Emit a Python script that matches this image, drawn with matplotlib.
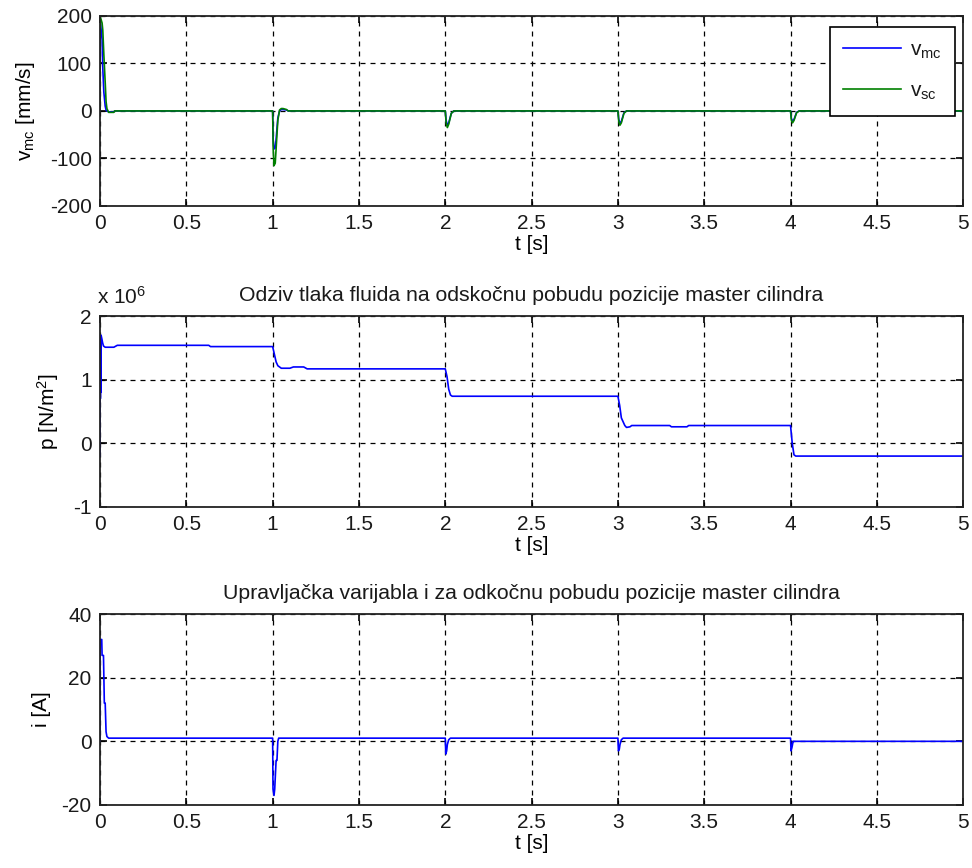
import numpy as np
import matplotlib
matplotlib.use('Agg')
import matplotlib.pyplot as plt

# Brzina master i slave cilindra [mm/s]
t_v = [0, 0.001, 0.004, 0.012, 0.016, 0.022, 0.03, 0.035, 0.04, 0.05, 0.08, 0.085,
       1.0, 1.003, 1.008, 1.015, 1.02, 1.03, 1.04, 1.05, 1.06, 1.08, 1.09,
       2.0, 2.005, 2.012, 2.02, 2.035, 2.05,
       3.0, 3.005, 3.012, 3.02, 3.035, 3.05,
       4.0, 4.005, 4.012, 4.02, 4.035, 4.05, 5.0]
v_sc = [0, 200, 195, 185, 170, 120, 60, 20, 5, -3, -3, 0,
        0, -80, -115, -110, -80, -20, 2, 5, 5, 3, 0,
        0, -25, -35, -28, -5, 0,
        0, -22, -30, -25, -5, 0,
        0, -20, -25, -20, -4, 0, 0]
v_mc = [0, 190, 180, 150, 90, 40, 10, 2, 0, -2, -2, 0,
        0, -60, -80, -78, -60, -15, 0, 3, 3, 2, 0,
        0, -20, -30, -25, -5, 0,
        0, -18, -26, -22, -4, 0,
        0, -16, -22, -18, -3, 0, 0]

# Tlak fluida [N/m^2] x 1e6
t_p = [0, 0.001, 0.002, 0.003, 0.004, 0.006, 0.01, 0.015, 0.02, 0.03, 0.08, 0.1, 0.63, 0.64,
       1.0, 1.01, 1.02, 1.03, 1.05, 1.1, 1.12, 1.18, 1.2,
       2.0, 2.01, 2.02, 2.03, 2.04,
       3.0, 3.01, 3.02, 3.04, 3.05, 3.07, 3.08, 3.3, 3.31, 3.4, 3.41,
       4.0, 4.01, 4.02, 4.03, 5.0]
p = [-0.2, 1.7, 0.7, 1.65, 0.8, 1.7, 1.65, 1.58, 1.53, 1.51, 1.51, 1.54, 1.54, 1.52,
     1.52, 1.40, 1.28, 1.22, 1.18, 1.18, 1.20, 1.20, 1.17,
     1.17, 1.05, 0.85, 0.76, 0.74,
     0.74, 0.60, 0.40, 0.28, 0.25, 0.26, 0.28, 0.28, 0.26, 0.26, 0.28,
     0.28, 0.0, -0.18, -0.2, -0.2]

# Upravljacka varijabla i [A]
t_i = [0, 0.001, 0.01, 0.012, 0.02, 0.025, 0.03, 0.035, 0.04, 0.05, 0.06, 0.08,
       1.0, 1.002, 1.008, 1.012, 1.02, 1.025, 1.03, 1.035, 1.04,
       2.0, 2.003, 2.008, 2.012, 2.02, 2.03,
       3.0, 3.003, 3.008, 3.012, 3.02, 3.03,
       4.0, 4.003, 4.008, 4.015, 4.02, 5.0]
i_A = [0, 32, 32, 27, 27, 12, 12, 3, 1.5, 1, 1, 1,
       1, -15, -17, -15, -6, -6, 0, 1, 1,
       1, -4, -3, -1, 0.5, 1,
       1, -3, -2.5, -1, 0.5, 1,
       1, -3, -2, 0, 0, 0]

x_ticks = [0, 0.5, 1, 1.5, 2, 2.5, 3, 3.5, 4, 4.5, 5]
x_lab = ['0', '0.5', '1', '1.5', '2', '2.5', '3', '3.5', '4', '4.5', '5']

plt.rc('font', family=['Liberation Sans', 'DejaVu Sans'], size=15)
plt.rc('mathtext', default='regular')
plt.rc('axes', unicode_minus=False)
plt.rc('text', color='#1a1a1a')

fig = plt.figure(figsize=(9.72, 8.68), dpi=100, facecolor='w')

def uredi(ax, yl, ylab, lp):
    ax.set_xlim(0, 5)
    ax.set_ylim(*yl)
    ax.set_xticks(x_ticks)
    ax.set_xticklabels(x_lab)
    ax.grid(True, color='k', linestyle=(0, (4, 4)), linewidth=0.9)
    ax.tick_params(direction='in', top=True, right=True, length=5, width=1.2,
                   pad=6, labelcolor='#1a1a1a')
    for s in ax.spines.values():
        s.set_linewidth(1.3)
        s.set_color('#222222')
    ax.set_xlabel('t [s]', labelpad=1)
    ax.set_ylabel(ylab, labelpad=lp)

# Brzina
ax1 = fig.add_axes([0.1029, 0.7627, 0.888, 0.219])
ax1.plot(t_v, v_mc, color='#0000ff', linewidth=1.2, label='v$_{mc}$')
ax1.plot(t_v, v_sc, color='#008000', linewidth=1.2, label='v$_{sc}$')
uredi(ax1, (-200, 200), 'v$_{mc}$ [mm/s]', 9)
ax1.set_yticks([-200, -100, 0, 100, 200])
leg = ax1.legend(loc='upper right', bbox_to_anchor=(955 / 972, 1 - 27 / 868),
                 bbox_transform=fig.transFigure, fancybox=False,
                 edgecolor='k', framealpha=1, handlelength=2.8, borderpad=0.65,
                 labelspacing=1.0, handletextpad=0.4, borderaxespad=0)
leg.get_frame().set_linewidth(1.2)

# Tlak
ax2 = fig.add_axes([0.1029, 0.4159, 0.888, 0.22])
ax2.plot(t_p, p, color='#0000ff', linewidth=1.2)
uredi(ax2, (-1, 2), 'p [N/m$^2$]', 9)
ax2.set_yticks([-1, 0, 1, 2])
ax2.set_title('Odziv tlaka fluida na odskočnu pobudu pozicije master cilindra',
              fontsize=15.3, pad=11)
ax2.text(-0.003, 1.045, 'x 10$^6$', transform=ax2.transAxes, ha='left', va='bottom')

# Struja
ax3 = fig.add_axes([0.1029, 0.0726, 0.888, 0.22])
ax3.plot(t_i, i_A, color='#0000ff', linewidth=1.2)
uredi(ax3, (-20, 40), 'i [A]', 7.5)
ax3.set_yticks([-20, 0, 20, 40])
ax3.set_title('Upravljačka varijabla i za odkočnu pobudu pozicije master cilindra',
              fontsize=15.3, pad=11)

fig.savefig('out.png', dpi=100)
